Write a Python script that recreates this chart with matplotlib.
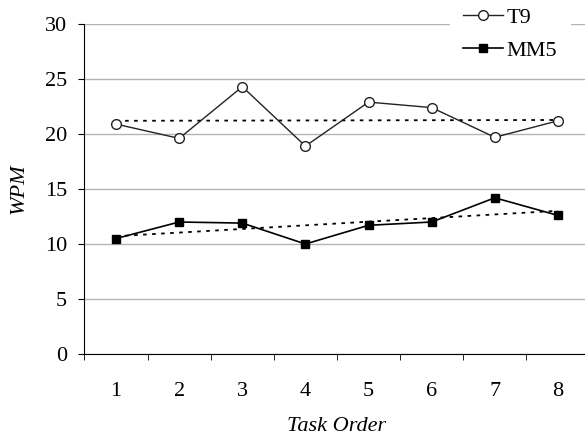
import numpy as np
import matplotlib
matplotlib.use('Agg')
import matplotlib.pyplot as plt

plt.rcParams['font.family'] = ['Liberation Serif', 'DejaVu Serif']

task_order = [1, 2, 3, 4, 5, 6, 7, 8]
t9_wpm = [20.9, 19.6, 24.3, 18.9, 22.9, 22.4, 19.7, 21.2]
mm5_wpm = [10.5, 12.0, 11.9, 10.0, 11.7, 12.0, 14.2, 12.6]

fig = plt.figure(figsize=(5.85, 4.42), dpi=100)
ax = fig.add_axes([84.5 / 585, 88 / 442, 505 / 585, 330 / 442])

x = np.array(task_order)
ax.plot(x, t9_wpm, '-', color='#222222', lw=1, marker='o', ms=7,
        mfc='white', mec='#222222', mew=1, label='T9', zorder=3)
ax.plot(x, mm5_wpm, '-', color='black', lw=1.2, marker='s', ms=6,
        mfc='black', mec='black', label='MM5', zorder=3)

# linear trend lines
for series in (t9_wpm, mm5_wpm):
    p = np.polyfit(x, series, 1)
    ax.plot(x, np.polyval(p, x), color='black', lw=1.3,
            linestyle=(0, (2, 3)), zorder=2)

ax.set_xlim(0.5, 8.5)
ax.set_ylim(0, 30)
ax.set_yticks(range(0, 31, 5))
ax.set_xticks(task_order)
ax.set_xticks(np.arange(0.5, 8.6, 1), minor=True)
ax.tick_params(axis='x', which='major', length=0, pad=20, labelsize=16)
ax.tick_params(axis='x', which='minor', length=4.5, direction='out')
ax.tick_params(axis='y', length=4.5, direction='out', pad=8, labelsize=16)
ax.yaxis.grid(True, color='#b4b4b4', lw=1)
ax.set_axisbelow(True)
for s in ('top', 'right'):
    ax.spines[s].set_visible(False)

ax.set_ylabel('WPM', style='italic', fontsize=16, labelpad=12)
ax.set_xlabel('Task Order', style='italic', fontsize=16, labelpad=12)

leg = fig.legend(loc='upper left', bbox_to_anchor=(450 / 585, 1 + 6 / 442),
                 frameon=True, fancybox=False, edgecolor='none',
                 facecolor='white', framealpha=1, fontsize=16,
                 handlelength=1.8, handletextpad=0.15, borderpad=0.6,
                 borderaxespad=0, labelspacing=0.55)

fig.savefig('out.png', dpi=100)
